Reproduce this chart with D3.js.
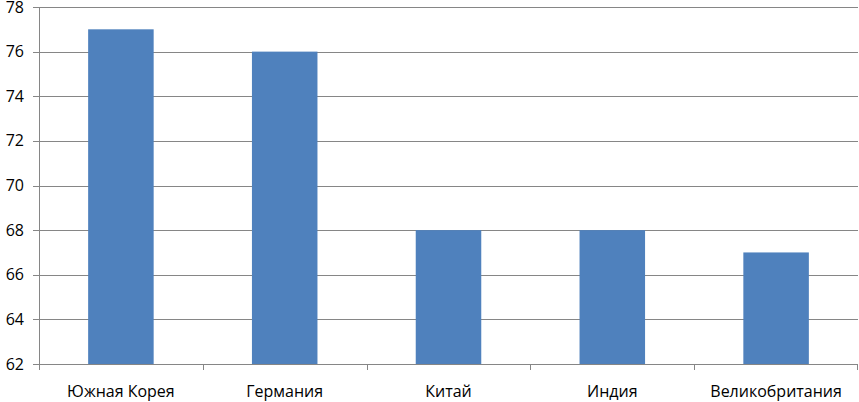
<!DOCTYPE html>
<html>
<head>
<meta charset="utf-8">
<script src="https://cdn.jsdelivr.net/npm/d3@7"></script>
<style>
  body { margin: 0; background: #fff; }
  text { font-family: "Open Sans", "Noto Sans", sans-serif; fill: #000; }
</style>
</head>
<body>
<svg id="chart" width="859" height="402"></svg>
<script>
// data
const countries = ["Южная Корея", "Германия", "Китай", "Индия", "Великобритания"]
const values = [77, 76, 68, 68, 67]
const yTicks = [62, 64, 66, 68, 70, 72, 74, 76, 78]

const margin = {top: 7, right: 1, bottom: 38, left: 39}
const W = 859, H = 402
const width = W - margin.left - margin.right
const height = H - margin.top - margin.bottom

const svg = d3.select("#chart")
const g = svg.append("g").attr("transform", `translate(${margin.left},${margin.top})`)

const x = d3.scaleBand().domain(countries).range([0, width]).paddingInner(0.6).paddingOuter(0.3)
const y = d3.scaleLinear().domain([62, 78]).range([height, 0])

const gridColor = "#868686"

// gridlines + left ticks
g.selectAll(".grid")
  .data(yTicks)
  .enter().append("line")
  .attr("x1", -6).attr("x2", width)
  .attr("y1", d => Math.round(y(d)) + 0.5).attr("y2", d => Math.round(y(d)) + 0.5)
  .attr("stroke", gridColor).attr("stroke-width", 1)

// bars
g.selectAll(".bar")
  .data(values)
  .enter().append("rect")
  .attr("x", (d, i) => x(countries[i]))
  .attr("width", x.bandwidth())
  .attr("y", d => y(d))
  .attr("height", d => height - y(d))
  .attr("fill", "#4F81BD")

// y axis line
g.append("line")
  .attr("x1", 0.5).attr("x2", 0.5).attr("y1", 0).attr("y2", height)
  .attr("stroke", gridColor)

// category boundary ticks
const step = x.step()
g.selectAll(".xtick")
  .data(d3.range(countries.length + 1))
  .enter().append("line")
  .attr("x1", i => Math.round(i * step) + 0.5 - (i === countries.length ? 1 : 0))
  .attr("x2", i => Math.round(i * step) + 0.5 - (i === countries.length ? 1 : 0))
  .attr("y1", height).attr("y2", height + 6)
  .attr("stroke", gridColor)

// y labels
g.selectAll(".ylab")
  .data(yTicks)
  .enter().append("text")
  .attr("x", -15)
  .attr("y", d => y(d))
  .attr("dy", "0.35em")
  .attr("text-anchor", "end")
  .style("font-size", "16px")
  .text(d => d)

// x labels
g.selectAll(".xlab")
  .data(countries)
  .enter().append("text")
  .attr("x", d => x(d) + x.bandwidth() / 2)
  .attr("y", height + 27)
  .attr("dy", "0.35em")
  .attr("text-anchor", "middle")
  .style("font-size", "16px")
  .text(d => d)
</script>
</body>
</html>
